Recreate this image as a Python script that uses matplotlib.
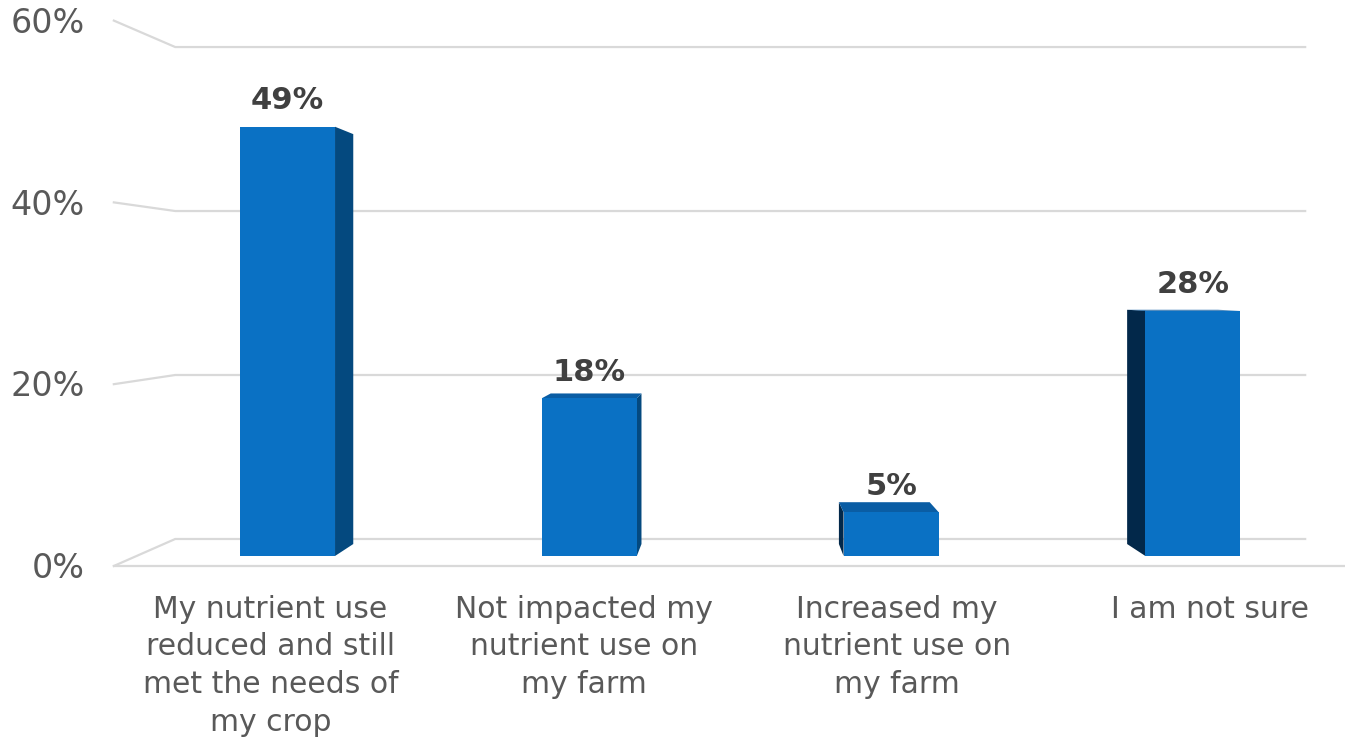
import matplotlib
matplotlib.use("Agg")
import matplotlib.pyplot as plt
from matplotlib.patches import Polygon

categories = ["My nutrient use\nreduced and still\nmet the needs of\nmy crop",
              "Not impacted my\nnutrient use on\nmy farm",
              "Increased my\nnutrient use on\nmy farm",
              "I am not sure"]
values = [49, 18, 5, 28]
ticks = [0, 20, 40, 60]

# fake 3d: everything is scaled towards a vanishing point
VP_X = 1.5
VP_Y = 30.3
S_WALL = 0.936   # back wall
S_BACK = 0.955   # back face of bars
S_FRONT = 1.0377 # front edge of floor
W = 0.315

def proj(x, v, s):
    return (VP_X + s * (x - VP_X), VP_Y + s * (v - VP_Y))

fig = plt.figure(figsize=(13.45, 7.38), dpi=100)
ax = fig.add_axes([0, 0, 1, 1])
ax.set_xlim(-0.9526, 3.504)
ax.set_ylim(-20.78, 63.47)
ax.set_axis_off()

grid = "#d9d9d9"
xl, xr = -0.5, len(categories) - 0.5
for t in ticks:
    a = proj(xl, t, S_FRONT)
    b = proj(xl, t, S_WALL)
    c = proj(xr, t, S_WALL)
    ax.plot([a[0], b[0], c[0]], [a[1], b[1], c[1]], color=grid, lw=1.6,
            solid_joinstyle="miter", zorder=1)
    ax.text(-0.671, a[1] - 0.3, f"{t}%", ha="right", va="center",
            fontsize=24, color="#595959")
# floor front edge
a = proj(xl, 0, S_FRONT)
c = proj(xr, 0, S_FRONT)
ax.plot([a[0], c[0]], [a[1], c[1]], color=grid, lw=1.6, zorder=1)

xs = list(range(len(categories)))
ax.bar(xs, values, width=W, color="#0A71C4", zorder=3)

for x, v in zip(xs, values):
    l, r = x - W / 2, x + W / 2
    if r < VP_X:
        pts = [(r, v), proj(r, v, S_BACK), proj(r, 0, S_BACK), (r, 0)]
        ax.add_patch(Polygon(pts, closed=True, fc="#04497F", ec="none", zorder=2))
    if l > VP_X:
        pts = [(l, v), proj(l, v, S_BACK), proj(l, 0, S_BACK), (l, 0)]
        ax.add_patch(Polygon(pts, closed=True, fc="#02284A", ec="none", zorder=2))
    if v < VP_Y:
        pts = [(l, v), (r, v), proj(r, v, S_BACK), proj(l, v, S_BACK)]
        ax.add_patch(Polygon(pts, closed=True, fc="#0A5DA4", ec="none", zorder=2))
    ax.text(x, v + 1.3, f"{v}%", ha="center", va="bottom", fontsize=22,
            fontweight="bold", color="#404040", zorder=4)

for x, lab in zip(xs, categories):
    px, _ = proj(x, 0, S_FRONT)
    ax.text(px, -4.4, lab, ha="center", va="top", fontsize=21.5,
            color="#595959", linespacing=1.38)

fig.savefig("out.png", dpi=100)
